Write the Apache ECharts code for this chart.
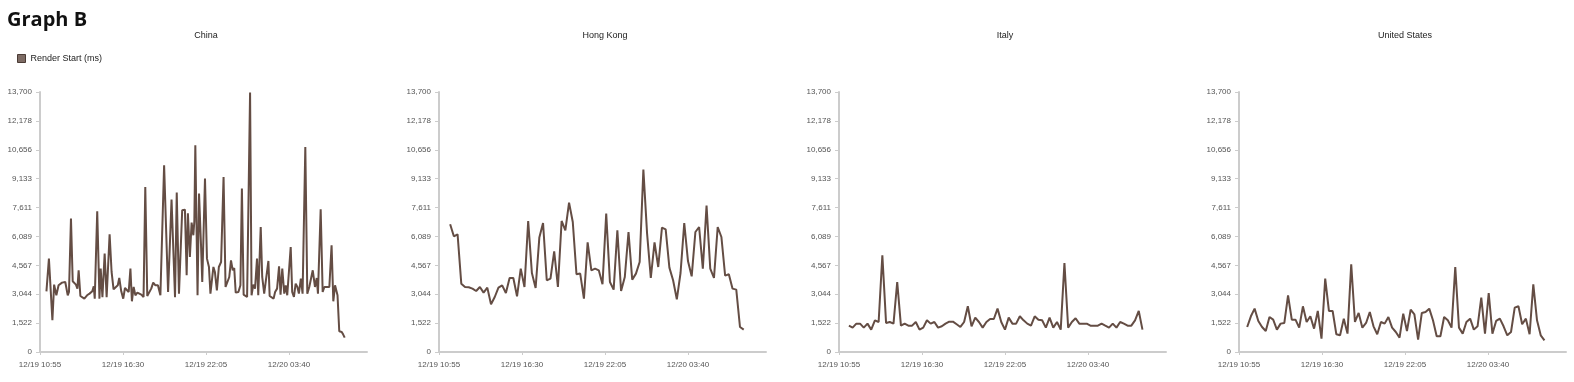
<!DOCTYPE html>
<html>
<head>
<meta charset="utf-8">
<script src="https://cdn.jsdelivr.net/npm/echarts@6/dist/echarts.min.js"></script>
<style>
html,body{margin:0;padding:0;background:#fff;}
#chart{width:1574px;height:382px;}
</style>
</head>
<body>
<div id="chart"></div>
<script>
// ---- data ----
const pageTitle = 'Graph B';
const seriesName = 'Render Start (ms)';
const cities = ['China', 'Hong Kong', 'Italy', 'United States'];

// x axis: minutes after 12/19 10:55
const xTickMinutes = [0, 335, 670, 1005];
const xTickLabels = ['12/19 10:55', '12/19 16:30', '12/19 22:05', '12/20 03:40'];
const xMaxMinutes = 1320;
const yTickValues = [0, 1522, 3044, 4567, 6089, 7611, 9133, 10656, 12178, 13700];

const chinaMinutes = [26,36,50,57,66,75,82,89,97,102,112,117,125,132,140,145,151,156,163,171,179,190,200,211,217,221,231,240,245,252,261,269,281,289,297,305,314,320,328,336,343,351,358,365,371,378,385,393,401,409,418,425,433,441,449,457,466,476,486,501,517,531,545,552,561,574,585,592,597,605,612,619,623,627,636,642,650,655,666,674,682,688,693,700,706,714,722,731,741,749,757,764,771,778,784,790,801,809,815,822,830,836,848,854,861,868,876,881,891,897,905,912,922,927,935,943,949,957,965,971,978,986,992,998,1012,1018,1025,1032,1039,1045,1053,1060,1071,1079,1087,1094,1101,1110,1117,1122,1133,1141,1148,1157,1168,1177,1184,1191,1196,1201,1208,1218,1224,1230];
const chinaValues = [3198,4920,1670,3550,2988,3514,3462,3655,3550,3690,2988,3163,7028,3725,3760,3550,3339,4305,2952,2988,2812,2988,3076,3198,3462,2812,7413,2812,4393,2882,5183,2882,6202,4217,3304,3304,3514,3900,3198,2812,3374,3374,3163,4393,2671,3426,2988,3128,3023,3023,2900,8694,2952,2935,3339,3655,3514,3514,2988,9837,3163,8028,2882,8399,3076,7466,7501,4041,7308,5007,6816,6149,6887,10891,2988,8346,5622,3690,9137,4920,4480,3076,3163,4480,4217,3251,4480,4742,9221,3426,3339,3953,4832,4305,4428,3128,3163,3514,8609,3023,3076,2900,13668,2988,3550,3339,4920,2988,6586,3953,3076,2988,4796,2952,2952,2812,3163,3339,4515,3023,4393,3076,3514,2988,5532,3163,2900,3602,3426,3076,3866,3076,10802,3076,3426,3514,4305,3426,3900,3076,7519,3163,3426,3426,3426,5622,2671,3514,3426,2988,1090,1055,917,759];

// other locations sampled every 15 minutes
const sampleStepMin = 15;
const hongKongStart = 45;
const hongKongValues = [6729,6096,6202,3602,3425,3409,3339,3214,3425,3128,3391,2513,2898,3391,3514,3109,3899,3899,2935,4393,3425,6903,4163,3372,6027,6797,3778,3867,5306,3425,6903,6412,7872,6850,4094,4131,2814,5780,4305,4393,4305,3567,7292,3688,3288,6412,3214,3952,6323,3815,4131,4742,9611,6238,3899,5780,4479,6555,6465,4447,3778,2777,4163,6797,4795,3989,6323,6586,4393,7714,4393,3899,6586,6059,4025,4094,3339,3288,1317,1180];
const italyStart = 40;
const italyValues = [1389,1284,1495,1495,1284,1495,1179,1670,1582,5095,1530,1582,1495,3690,1389,1495,1389,1389,1582,1179,1284,1670,1495,1582,1284,1354,1495,1600,1600,1460,1319,1582,2408,1354,1811,1582,1284,1582,1740,1740,2285,1582,1179,1811,1495,1495,1881,1670,1495,1389,1881,1705,1670,1284,1811,1284,1582,1179,4691,1284,1582,1776,1495,1495,1495,1389,1389,1389,1495,1389,1284,1495,1284,1582,1495,1389,1389,1670,2162,1179];
const usStart = 33;
const usValues = [1319,1881,2285,1635,1319,1108,1846,1705,1179,1495,1530,2988,1705,1705,1284,2408,1582,1881,1231,2162,704,3866,2162,2162,933,880,1758,968,4621,1582,2057,1284,1530,2109,1354,933,1582,1495,1846,1284,1055,757,2022,1108,2232,1986,652,2057,2109,2285,1670,827,827,1846,1670,1284,4480,1284,968,1582,1758,1179,1354,2865,968,3110,968,1635,1758,1354,880,1055,2338,2408,1460,1758,933,3567,1670,880,616];

// ---- build ----
function pairs(minutes, values) { return values.map((v, i) => [minutes[i], v]); }
function regular(start, values) { return values.map((v, i) => [start + i * sampleStepMin, v]); }
const seriesData = [
  pairs(chinaMinutes, chinaValues),
  regular(hongKongStart, hongKongValues),
  regular(italyStart, italyValues),
  regular(usStart, usValues)
];

const FONT = "'Liberation Sans', Arial, sans-serif";
const gridLefts = [40, 439, 839, 1239];
const gridWidth = 327, gridTop = 92, gridHeight = 260;
const lineColor = '#644d44';
const axisColor = '#cccccc';
const labelColor = '#555';

const titles = [{
  text: pageTitle, left: 7, top: 10, padding: 0,
  textStyle: { fontFamily: "'Open Sans', 'Noto Sans', sans-serif", fontSize: 20, fontWeight: 'bold', color: '#111' }
}];
cities.forEach((c, i) => titles.push({
  text: c, left: gridLefts[i] + 166, top: 31, textAlign: 'center', padding: 0,
  textStyle: { fontFamily: FONT, fontSize: 9, fontWeight: 'normal', color: '#222' }
}));

const grids = [], xAxes = [], yAxes = [], series = [];
cities.forEach((c, i) => {
  grids.push({ left: gridLefts[i], top: gridTop, width: gridWidth, height: gridHeight, containLabel: false });
  xAxes.push({
    type: 'value', gridIndex: i, min: 0, max: xMaxMinutes,
    axisLine: { show: true, lineStyle: { color: axisColor, width: 2 } },
    axisTick: { show: true, length: 3, customValues: xTickMinutes, lineStyle: { color: axisColor, width: 1 } },
    axisLabel: {
      customValues: xTickMinutes, margin: 9, fontFamily: FONT, fontSize: 8, color: labelColor,
      formatter: v => xTickLabels[xTickMinutes.indexOf(v)] || ''
    },
    splitLine: { show: false }
  });
  yAxes.push({
    type: 'value', gridIndex: i, min: 0, max: yTickValues[yTickValues.length - 1],
    axisLine: { show: true, lineStyle: { color: axisColor, width: 2 } },
    axisTick: { show: true, length: 4, customValues: yTickValues, lineStyle: { color: axisColor, width: 1 } },
    axisLabel: {
      customValues: yTickValues, margin: 8, fontFamily: FONT, fontSize: 8, color: labelColor,
      formatter: v => Number(v).toLocaleString('en-US')
    },
    splitLine: { show: false }
  });
  series.push({
    name: seriesName, type: 'line', xAxisIndex: i, yAxisIndex: i,
    data: seriesData[i], showSymbol: false, symbol: 'none',
    lineStyle: { color: lineColor, width: 2 }, itemStyle: { color: lineColor },
    animation: false
  });
});

const chart = echarts.init(document.getElementById('chart'), null, { renderer: 'canvas' });
chart.setOption({
  backgroundColor: '#fff',
  animation: false,
  title: titles,
  legend: {
    left: 17, top: 54, itemWidth: 8, itemHeight: 8, itemGap: 10, padding: 0,
    data: [{ name: seriesName, icon: 'rect', itemStyle: { color: '#7d6b64', borderColor: '#4a3b35', borderWidth: 1 } }],
    textStyle: { fontFamily: FONT, fontSize: 9, color: '#222', padding: [0, 0, 0, 0] }
  },
  grid: grids,
  xAxis: xAxes,
  yAxis: yAxes,
  series: series
});
</script>
</body>
</html>
